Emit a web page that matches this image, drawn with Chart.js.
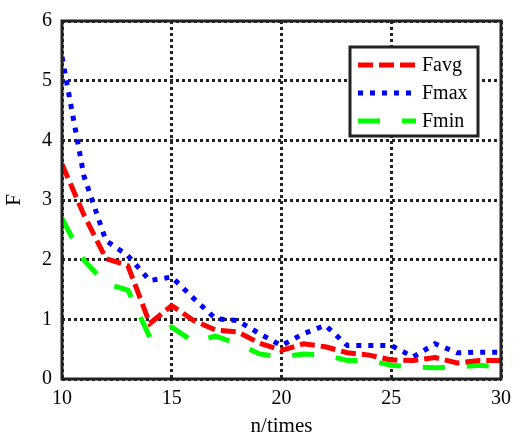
<!DOCTYPE html>
<html>
<head>
<meta charset="utf-8">
<script src="https://cdn.jsdelivr.net/npm/chart.js@4"></script>
<style>
  html, body { margin: 0; padding: 0; background: #fff; }
  #wrap { width: 513px; height: 439px; }
</style>
</head>
<body>
<div id="wrap"><canvas id="chart"></canvas></div>
<script>
const times = [10, 11, 12, 13, 14, 15, 16, 17, 18, 19, 20, 21, 22, 23, 24, 25, 26, 27, 28, 29, 30];
const favg = [3.6, 2.75, 2.02, 1.9, 0.93, 1.23, 0.98, 0.82, 0.79, 0.6, 0.48, 0.59, 0.54, 0.44, 0.4, 0.32, 0.31, 0.36, 0.27, 0.31, 0.31];
const fmax = [5.4, 3.4, 2.32, 2.07, 1.65, 1.71, 1.35, 1.01, 0.98, 0.76, 0.56, 0.76, 0.9, 0.56, 0.56, 0.56, 0.37, 0.59, 0.44, 0.45, 0.45];
const fmin = [2.69, 1.99, 1.6, 1.49, 0.7, 0.87, 0.62, 0.72, 0.59, 0.42, 0.37, 0.42, 0.4, 0.31, 0.31, 0.23, 0.2, 0.19, 0.2, 0.23, 0.2];
const yTicks = [0, 1, 2, 3, 4, 5, 6];

const serif = "'Liberation Serif', 'DejaVu Serif', serif";

function toPoints(ys) {
    return times.map((t, i) => ({ x: t, y: ys[i] }));
}

// frame round the plot area and the legend box in the upper right
const framePlugin = {
    id: 'frame',
    afterDraw(chart) {
        const ctx = chart.ctx;
        const a = chart.chartArea;
        ctx.save();
        ctx.strokeStyle = '#222';
        ctx.lineWidth = 3;
        ctx.setLineDash([]);
        ctx.strokeRect(a.left, a.top, a.right - a.left, a.bottom - a.top);

        const bx = 350, by = 47, bw = 128, bh = 89;
        ctx.fillStyle = '#fff';
        ctx.fillRect(bx, by, bw, bh);
        ctx.strokeRect(bx, by, bw, bh);
        ctx.font = '20px ' + serif;
        ctx.textBaseline = 'middle';
        chart.data.datasets.forEach((ds, i) => {
            const y = by + 18 + i * 28;
            ctx.strokeStyle = ds.borderColor;
            ctx.lineWidth = ds.borderWidth;
            ctx.lineCap = 'butt';
            ctx.setLineDash(ds.borderDash);
            ctx.beginPath();
            ctx.moveTo(bx + 8, y);
            ctx.lineTo(bx + 66, y);
            ctx.stroke();
            ctx.fillStyle = '#000';
            ctx.fillText(ds.label, bx + 72, y + 1);
        });
        ctx.restore();
    }
};

new Chart(document.getElementById('chart'), {
    type: 'line',
    data: {
        datasets: [
            {
                label: 'Favg',
                data: toPoints(favg),
                borderColor: '#ff0000',
                borderWidth: 5,
                borderDash: [15, 6]
            },
            {
                label: 'Fmax',
                data: toPoints(fmax),
                borderColor: '#0000ff',
                borderWidth: 5,
                borderDash: [5, 7]
            },
            {
                label: 'Fmin',
                data: toPoints(fmin),
                borderColor: '#00ff00',
                borderWidth: 5,
                borderDash: [22, 22]
            }
        ]
    },
    options: {
        responsive: true,
        maintainAspectRatio: false,
        animation: false,
        layout: {
            padding: { top: 21, right: 12, left: 0, bottom: 0 }
        },
        elements: {
            line: { tension: 0, borderCapStyle: 'butt', fill: false },
            point: { radius: 0, hoverRadius: 0 }
        },
        plugins: {
            legend: { display: false },
            tooltip: { enabled: false }
        },
        scales: {
            x: {
                type: 'linear',
                min: 10,
                max: 30,
                ticks: {
                    stepSize: 5,
                    color: '#000',
                    padding: 8,
                    maxRotation: 0,
                    font: { family: serif, size: 20 }
                },
                grid: {
                    color: '#222',
                    lineWidth: 3,
                    drawTicks: false
                },
                border: { display: false, dash: [3, 3] },
                title: {
                    display: true,
                    text: 'n/times',
                    color: '#000',
                    padding: { top: 3, bottom: 0 },
                    font: { family: serif, size: 21 }
                },
                afterFit(scale) {
                    scale.height = 60;
                    scale.paddingLeft = 0;
                    scale.paddingRight = 0;
                }
            },
            y: {
                min: 0,
                max: 6,
                afterBuildTicks(scale) {
                    scale.ticks = yTicks.map(v => ({ value: v }));
                },
                ticks: {
                    color: '#000',
                    padding: 10,
                    font: { family: serif, size: 20 }
                },
                grid: {
                    color: '#222',
                    lineWidth: 3,
                    drawTicks: false
                },
                border: { display: false, dash: [3, 3] },
                title: {
                    display: true,
                    text: 'F',
                    color: '#000',
                    padding: { top: 2, bottom: 4 },
                    font: { family: serif, size: 21 }
                },
                afterFit(scale) {
                    scale.width = 62;
                    scale.paddingTop = 0;
                    scale.paddingBottom = 0;
                }
            }
        }
    },
    plugins: [framePlugin]
});
</script>
</body>
</html>
